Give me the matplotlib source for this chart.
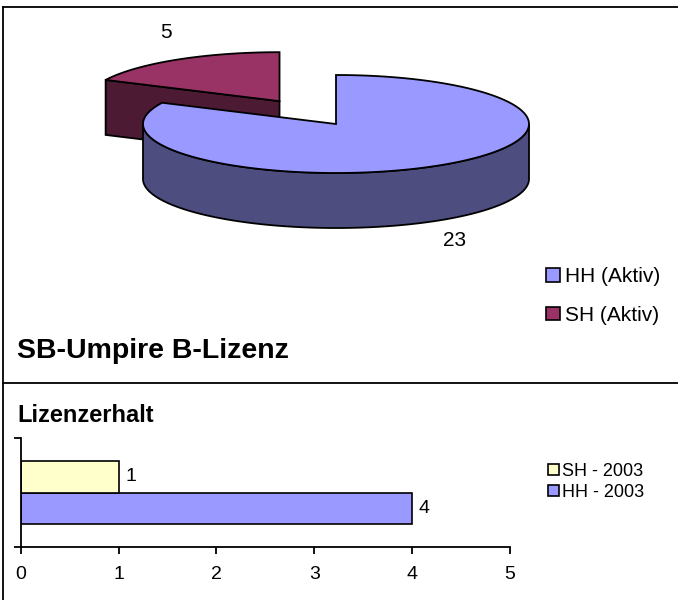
import numpy as np
import matplotlib
matplotlib.use("Agg")
import matplotlib.pyplot as plt
from matplotlib.patches import Polygon, Patch

plt.rcParams["font.family"] = ["Liberation Sans", "DejaVu Sans"]

# Data
pie_labels = ["HH (Aktiv)", "SH (Aktiv)"]
pie_values = [23, 5]
pie_colors = ["#9999FF", "#993366"]
pie_side_colors = ["#4D4D80", "#4C1A33"]

bar_labels = ["HH - 2003", "SH - 2003"]
bar_values = [4, 1]
bar_colors = ["#9999FF", "#FFFFCC"]

W, H = 678, 600
fig = plt.figure(figsize=(W / 100, H / 100), dpi=100)

# overlay in pixel coords for the 3d pie and frame lines
ov = fig.add_axes([0, 0, 1, 1])
ov.set_xlim(0, W)
ov.set_ylim(H, 0)
ov.axis("off")

ov.plot([3, W], [7, 7], color="black", lw=1.3)
ov.plot([3, 3], [7, H], color="black", lw=1.3)
ov.plot([3, W], [383, 383], color="black", lw=1.3)

# 3d pie geometry
cx, cy = 336, 124
a, b, depth = 193, 49, 55
explode = 0.55


def rim(x0, y0, th, dz=0):
    t = np.radians(th)
    return np.column_stack([x0 + a * np.cos(t), y0 - b * np.sin(t) + dz])


total = sum(pie_values)
spans = [v / total * 360 for v in pie_values]
start_hh = 90
end_hh = start_hh - spans[0]  # clockwise from 12 o'clock
start_sh, end_sh = end_hh, end_hh - spans[1]

# SH slice (exploded)
mid = np.radians((start_sh + end_sh) / 2)
sx = cx + explode * a * np.cos(mid)
sy = cy - explode * b * np.sin(mid)
edge = rim(sx, sy, start_sh)[0]
face = [(sx, sy), tuple(edge), (edge[0], edge[1] + depth), (sx, sy + depth)]
ov.add_patch(Polygon(face, closed=True, fc=pie_side_colors[1], ec="black", lw=1.3, zorder=2))
arc = rim(sx, sy, np.linspace(start_sh, end_sh, 80))
ov.add_patch(Polygon(np.vstack([[sx, sy], arc]), closed=True, fc=pie_colors[1], ec="black", lw=1.3, zorder=3))

# HH slice
th_front = np.linspace(-180, 0, 120)
side = np.vstack([rim(cx, cy, th_front), rim(cx, cy, th_front[::-1], depth)])
ov.add_patch(Polygon(side, closed=True, fc=pie_side_colors[0], ec="black", lw=1.3, zorder=4))
arc = rim(cx, cy, np.linspace(start_hh, end_hh, 200))
ov.add_patch(Polygon(np.vstack([[cx, cy], arc]), closed=True, fc=pie_colors[0], ec="black", lw=1.3, zorder=5))

ov.text(166, 33, str(pie_values[1]), fontsize=15, ha="center", va="center")
ov.text(455, 240, str(pie_values[0]), fontsize=15, ha="center", va="center")

ov.text(17, 351, "SB-Umpire B-Lizenz", fontsize=20.5, fontweight="bold", ha="left", va="center")
ov.text(17, 415, "Lizenzerhalt", fontsize=17, fontweight="bold", ha="left", va="center")

leg1 = ov.legend(
    handles=[Patch(fc=c, ec="black", lw=1.2) for c in pie_colors],
    labels=pie_labels,
    loc="upper left", bbox_to_anchor=(546, 267), bbox_transform=ov.transData,
    frameon=False, fontsize=15, handlelength=0.65, handleheight=0.65,
    handletextpad=0.25, labelspacing=0.95, borderpad=0, borderaxespad=0,
)
ov.add_artist(leg1)

# bar chart
bx = fig.add_axes([20.7 / W, 1 - 547 / H, (510 - 20.7) / W, (547 - 438) / H])
bh = 0.29
ypos = [-bh / 2, bh / 2]
bars = bx.barh(ypos, bar_values, height=bh, color=bar_colors, edgecolor="black", lw=1.2)
for y, v in zip(ypos, bar_values):
    bx.text(v + 0.07, y, str(v), fontsize=14, va="center", ha="left")
bx.set_xlim(0, 5)
bx.set_ylim(-0.5, 0.5)
bx.set_xticks(range(6))
bx.set_yticks([-0.5, 0.5])
bx.set_yticklabels([])
bx.tick_params(axis="both", direction="out", length=5, width=1.3, color="black", labelsize=14, pad=9)
for s in ["top", "right"]:
    bx.spines[s].set_visible(False)
for s in ["left", "bottom"]:
    bx.spines[s].set_linewidth(1.3)
bx.patch.set_alpha(0)

leg2 = ov.legend(
    handles=[Patch(fc=bar_colors[1], ec="black", lw=1.2), Patch(fc=bar_colors[0], ec="black", lw=1.2)],
    labels=[bar_labels[1], bar_labels[0]],
    loc="upper left", bbox_to_anchor=(548, 463), bbox_transform=ov.transData,
    frameon=False, fontsize=13, handlelength=0.6, handleheight=0.6,
    handletextpad=0.15, labelspacing=0.2, borderpad=0, borderaxespad=0,
)

fig.savefig("out.png", dpi=100)
